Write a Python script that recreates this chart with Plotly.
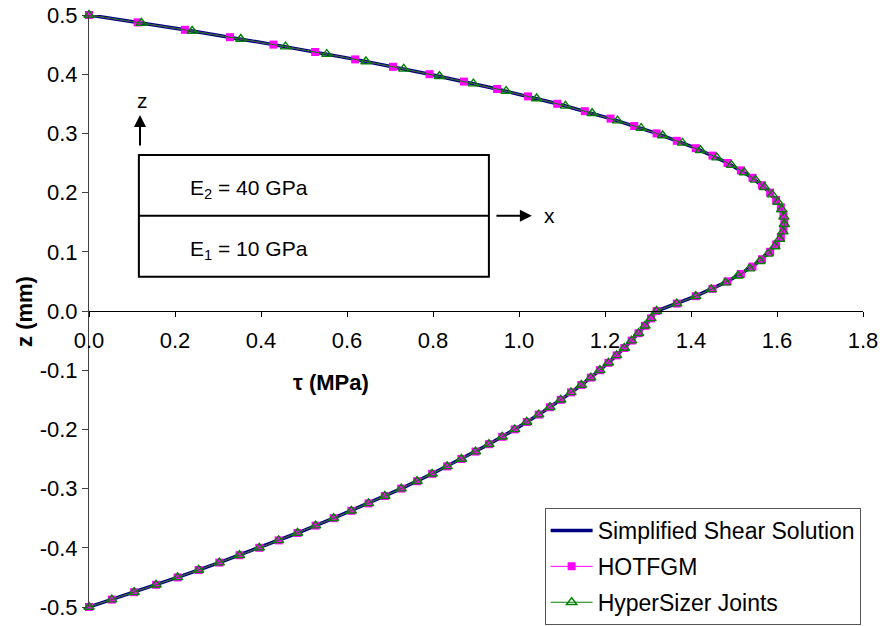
import plotly.graph_objects as go

# ---- data ----
z_line = [-0.5, -0.475, -0.45, -0.425, -0.4, -0.375, -0.35, -0.325, -0.3, -0.275, -0.25,
          -0.225, -0.2, -0.175, -0.15, -0.125, -0.1, -0.075, -0.05, -0.025, 0.0,
          0.025, 0.05, 0.075, 0.1, 0.125, 0.15, 0.175, 0.2, 0.225, 0.25, 0.275, 0.3,
          0.325, 0.35, 0.375, 0.4, 0.425, 0.45, 0.475, 0.5]
tau_line = [0.000, 0.105, 0.206, 0.303, 0.396, 0.485, 0.569, 0.650, 0.726, 0.798, 0.866,
            0.930, 0.990, 1.046, 1.097, 1.145, 1.188, 1.227, 1.262, 1.293, 1.320,
            1.411, 1.485, 1.543, 1.584, 1.609, 1.617, 1.609, 1.584, 1.543, 1.485, 1.411, 1.320,
            1.213, 1.089, 0.949, 0.792, 0.619, 0.429, 0.223, 0.000]

z_hot = [-0.5, -0.4875, -0.475, -0.4625, -0.45, -0.4375, -0.425, -0.4125, -0.4, -0.3875,
         -0.375, -0.3625, -0.35, -0.3375, -0.325, -0.3125, -0.3, -0.2875, -0.275, -0.2625,
         -0.25, -0.2375, -0.225, -0.2125, -0.2, -0.1875, -0.175, -0.1625, -0.15, -0.1375,
         -0.125, -0.1125, -0.1, -0.0875, -0.075, -0.0625, -0.05, -0.0375, -0.025, -0.0125,
         0.0, 0.0125, 0.025, 0.0375, 0.05, 0.0625, 0.075, 0.0875, 0.1, 0.1125, 0.125,
         0.1375, 0.15, 0.1625, 0.175, 0.1875, 0.2, 0.2125, 0.225, 0.2375, 0.25, 0.2625,
         0.275, 0.2875, 0.3, 0.3125, 0.325, 0.3375, 0.35, 0.3625, 0.375, 0.3875, 0.4,
         0.4125, 0.425, 0.4375, 0.45, 0.4625, 0.475, 0.4875, 0.5]
tau_hot = [0.000, 0.053, 0.105, 0.156, 0.206, 0.255, 0.303, 0.350, 0.396, 0.441,
           0.485, 0.527, 0.569, 0.610, 0.650, 0.688, 0.726, 0.763, 0.798, 0.833,
           0.866, 0.899, 0.930, 0.961, 0.990, 1.018, 1.046, 1.072, 1.097, 1.121,
           1.145, 1.167, 1.188, 1.208, 1.227, 1.245, 1.262, 1.278, 1.293, 1.307,
           1.320, 1.367, 1.411, 1.450, 1.485, 1.516, 1.543, 1.565, 1.584, 1.598, 1.609,
           1.615, 1.617, 1.615, 1.609, 1.598, 1.584, 1.565, 1.543, 1.516, 1.485, 1.450,
           1.411, 1.367, 1.320, 1.268, 1.213, 1.153, 1.089, 1.021, 0.949, 0.872, 0.792,
           0.707, 0.619, 0.526, 0.429, 0.328, 0.223, 0.113, 0.000]

z_hyp = [-0.5, -0.4875, -0.475, -0.4625, -0.45, -0.4375, -0.425, -0.4125, -0.4, -0.3875,
         -0.375, -0.3625, -0.35, -0.3375, -0.325, -0.3125, -0.3, -0.2875, -0.275, -0.2625,
         -0.25, -0.2375, -0.225, -0.2125, -0.2, -0.1875, -0.175, -0.1625, -0.15, -0.1375,
         -0.125, -0.1125, -0.1, -0.0875, -0.075, -0.0625, -0.05, -0.0375, -0.025, -0.0125,
         0.0, 0.0125, 0.025, 0.0365, 0.048, 0.0595, 0.0715, 0.084, 0.0965, 0.109, 0.1215,
         0.134, 0.1465, 0.159, 0.1715, 0.184, 0.1965, 0.209, 0.2215, 0.234, 0.2465, 0.259,
         0.2715, 0.284, 0.2965, 0.309, 0.3215, 0.334, 0.3465, 0.359, 0.3715, 0.384, 0.3965,
         0.409, 0.4215, 0.434, 0.4465, 0.4595, 0.473, 0.4865, 0.5]
tau_hyp = [0.000, 0.053, 0.105, 0.156, 0.206, 0.255, 0.303, 0.350, 0.396, 0.441,
           0.485, 0.527, 0.569, 0.610, 0.650, 0.688, 0.726, 0.763, 0.798, 0.833,
           0.866, 0.899, 0.930, 0.961, 0.990, 1.018, 1.046, 1.072, 1.097, 1.121,
           1.145, 1.167, 1.188, 1.208, 1.227, 1.245, 1.262, 1.278, 1.293, 1.307,
           1.320, 1.367, 1.411, 1.447, 1.480, 1.509, 1.536, 1.560, 1.579, 1.595, 1.606,
           1.614, 1.617, 1.616, 1.611, 1.602, 1.589, 1.571, 1.550, 1.524, 1.494, 1.460,
           1.422, 1.380, 1.334, 1.284, 1.229, 1.170, 1.108, 1.041, 0.970, 0.894, 0.815,
           0.732, 0.644, 0.553, 0.457, 0.353, 0.240, 0.122, 0.000]

x_tickvals = [0.0, 0.2, 0.4, 0.6, 0.8, 1.0, 1.2, 1.4, 1.6, 1.8]
x_ticktext = ["0.0", "0.2", "0.4", "0.6", "0.8", "1.0", "1.2", "1.4", "1.6", "1.8"]
y_tickvals = [-0.5, -0.4, -0.3, -0.2, -0.1, 0.0, 0.1, 0.2, 0.3, 0.4, 0.5]
y_ticktext = ["-0.5", "-0.4", "-0.3", "-0.2", "-0.1", "0.0", "0.1", "0.2", "0.3", "0.4", "0.5"]

FONT = "Liberation Sans, Arial, sans-serif"

fig = go.Figure()
fig.add_trace(go.Scatter(
    x=tau_line, y=z_line, mode="lines", name="Simplified Shear Solution",
    line=dict(color="#000080", width=3.5), cliponaxis=False, legendgroup="a"))
fig.add_trace(go.Scatter(
    x=tau_hot, y=z_hot, mode="lines+markers", name="HOTFGM",
    line=dict(color="#FF00FF", width=1),
    marker=dict(symbol="square", size=8, color="#FF00FF"),
    cliponaxis=False, legendgroup="b"))
fig.add_trace(go.Scatter(
    x=tau_hyp, y=z_hyp, mode="lines+markers", name="HyperSizer Joints",
    line=dict(color="#008000", width=1),
    marker=dict(symbol="triangle-up-open", size=9, color="#008000", line=dict(width=1.4)),
    cliponaxis=False, legendgroup="c"))

# inset sketch of the two-layer section
fig.add_shape(type="rect", xref="x", yref="y", x0=0.116, x1=0.930, y0=0.058, y1=0.2635,
              line=dict(color="black", width=2), fillcolor="rgba(0,0,0,0)", layer="below")
fig.add_shape(type="line", xref="x", yref="y", x0=0.116, x1=0.930, y0=0.161, y1=0.161,
              line=dict(color="black", width=2), layer="below")

annos = [
    dict(x=0.1186, y=0.331, ax=0.1186, ay=0.277, axref="x", ayref="y", xref="x", yref="y",
         text="", showarrow=True, arrowhead=2, arrowsize=1.2, arrowwidth=2, arrowcolor="black"),
    dict(x=1.030, y=0.161, ax=0.944, ay=0.161, axref="x", ayref="y", xref="x", yref="y",
         text="", showarrow=True, arrowhead=2, arrowsize=1.2, arrowwidth=2, arrowcolor="black"),
    dict(x=0.125, y=0.356, xref="x", yref="y", text="z", showarrow=False,
         font=dict(size=21, color="black", family=FONT)),
    dict(x=1.072, y=0.161, xref="x", yref="y", text="x", showarrow=False,
         font=dict(size=21, color="black", family=FONT)),
    dict(x=0.230, y=0.206, xref="x", yref="y", xanchor="left", text="E<sub>2</sub> = 40 GPa",
         showarrow=False, font=dict(size=21, color="black", family=FONT)),
    dict(x=0.230, y=0.103, xref="x", yref="y", xanchor="left", text="E<sub>1</sub> = 10 GPa",
         showarrow=False, font=dict(size=21, color="black", family=FONT)),
    dict(x=0.563, y=-0.1216, xref="x", yref="y", text="<b>τ (MPa)</b>", showarrow=False,
         font=dict(size=22, color="black", family=FONT)),
    dict(x=-0.084, y=0.5, xref="paper", yref="paper", xanchor="center", yanchor="middle",
         text="<b>z (mm)</b>", textangle=-90,
         showarrow=False, font=dict(size=22, color="black", family=FONT)),
]

fig.update_layout(
    template="none",
    width=880, height=626,
    margin=dict(l=89, r=17, t=15, b=19, autoexpand=False),
    paper_bgcolor="white", plot_bgcolor="white",
    font=dict(family=FONT, size=22, color="black"),
    annotations=annos,
    showlegend=True,
    legend=dict(xref="container", yref="container",
                x=0.978, xanchor="right", y=0.0016, yanchor="bottom",
                bgcolor="white", bordercolor="#555555", borderwidth=1,
                font=dict(size=23, family=FONT, color="black"),
                traceorder="grouped", tracegroupgap=3, itemwidth=42),
    xaxis=dict(range=[0, 1.8], anchor="free", position=0.5, automargin=False,
               showline=True, linecolor="black", linewidth=1,
               ticks="outside", ticklen=5, tickcolor="black",
               tickvals=x_tickvals, ticktext=x_ticktext, ticklabeloverflow="allow",
               showgrid=False, zeroline=False, ticklabelstandoff=5),
    yaxis=dict(range=[-0.5, 0.5], automargin=False,
               showline=True, linecolor="#404040", linewidth=1,
               ticks="outside", ticklen=6, tickcolor="#404040",
               tickvals=y_tickvals, ticktext=y_ticktext, ticklabeloverflow="allow",
               showgrid=False, zeroline=False),
)

fig.write_html("out.html", config={"displayModeBar": False},
               post_script="document.body.style.margin='0';document.body.style.overflow='hidden';")
